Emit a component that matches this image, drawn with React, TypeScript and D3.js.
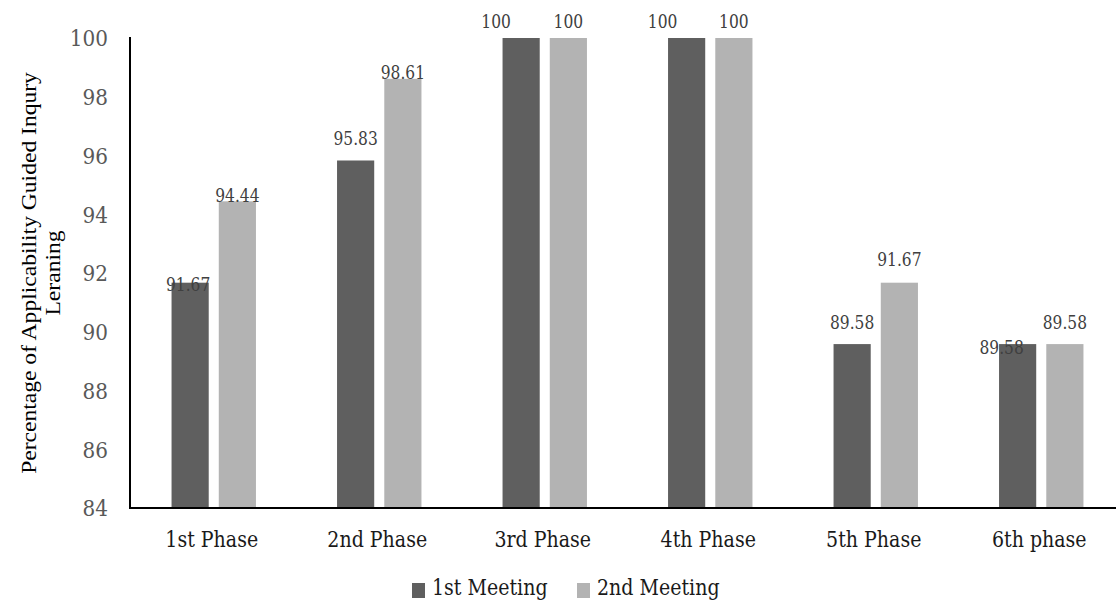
import React from "react";
import * as d3 from "d3";

const categories = ["1st Phase", "2nd Phase", "3rd Phase", "4th Phase", "5th Phase", "6th phase"];
const seriesNames = ["1st Meeting", "2nd Meeting"];
const meeting1 = [91.67, 95.83, 100, 100, 89.58, 89.58];
const meeting2 = [94.44, 98.61, 100, 100, 91.67, 89.58];
const yTicks = [84, 86, 88, 90, 92, 94, 96, 98, 100];
const labelText1 = ["91.67", "95.83", "100", "100", "89.58", "89.58"];
const labelText2 = ["94.44", "98.61", "100", "100", "91.67", "89.58"];

// label placement tweaks (styling, px)
const labelDy1 = [2, -22, -16, -16, -22, 3];
const labelDx1 = [-2, 0, -25, -24, 0, -16];
const labelDy2 = [-6, -6, -16, -16, -23, -22];
const labelDx2 = [0, 0, 0, 0, 0, 0];

const W = 1116;
const H = 601;
const colors = ["#5f5f5f", "#b3b3b3"];
const SY = 1.15;
const serif = "'DejaVu Serif', serif";

export default function App() {
  const x0 = d3.scaleBand<string>().domain(categories).range([131, 1124]).paddingInner(0.49).paddingOuter(0.245);
  const x1 = d3.scaleBand<string>().domain(seriesNames).range([0, x0.bandwidth()]).paddingInner(0.213);
  const y = d3.scaleLinear().domain([84, 100]).range([508, 38]);

  const series = [
    { name: seriesNames[0], values: meeting1, labels: labelText1, dy: labelDy1, dx: labelDx1 },
    { name: seriesNames[1], values: meeting2, labels: labelText2, dy: labelDy2, dx: labelDx2 },
  ];

  const tt = (x: number, yy: number) => `translate(${x},${yy}) scale(1,${SY})`;

  return (
    <svg width={W} height={H} style={{ position: "absolute", left: 0, top: 0, background: "#fff" }}>
      <rect x={0} y={0} width={W} height={H} fill="#fff" />
      {series.map((s, si) =>
        categories.map((c, i) => {
          const bx = (x0(c) as number) + (x1(s.name) as number);
          const by = y(s.values[i]);
          return (
            <rect key={`b${si}-${i}`} x={bx} y={by} width={x1.bandwidth()} height={y(84) - by} fill={colors[si]} />
          );
        })
      )}
      {series.map((s, si) =>
        categories.map((c, i) => {
          const cx = (x0(c) as number) + (x1(s.name) as number) + x1.bandwidth() / 2 + s.dx[i];
          const cy = y(s.values[i]) + s.dy[i];
          return (
            <text key={`l${si}-${i}`} transform={tt(cx, cy)} textAnchor="middle" dy="0.36em"
              fontFamily={serif} fontSize={15.5} fill="#404040">
              {s.labels[i]}
            </text>
          );
        })
      )}
      <line x1={130} x2={130} y1={37} y2={509} stroke="#000" strokeWidth={2} />
      <line x1={129} x2={W} y1={508} y2={508} stroke="#000" strokeWidth={2} />
      {yTicks.map((t) => (
        <text key={`t${t}`} transform={tt(108, y(t))} textAnchor="end" dy="0.36em"
          fontFamily={serif} fontSize={20} fill="#595959">
          {t}
        </text>
      ))}
      {categories.map((c) => (
        <text key={`c${c}`} transform={tt((x0(c) as number) + x0.bandwidth() / 2 - 2, 547)} textAnchor="middle"
          fontFamily={serif} fontSize={19} fill="#1a1a1a">
          {c}
        </text>
      ))}
      <g transform={`translate(0,273) scale(1,${SY}) rotate(-90)`}>
        <text x={0} y={36} textAnchor="middle" fontFamily="'Liberation Serif', serif" fontSize={20.5} fill="#000">
          Percentage of Applicability Guided Inqury
        </text>
        <text x={0} y={60} textAnchor="middle" fontFamily="'Liberation Serif', serif" fontSize={20.5} fill="#000">
          Leraning
        </text>
      </g>
      {seriesNames.map((n, i) => {
        const lx = [412, 577][i];
        return (
          <g key={`lg${i}`}>
            <rect x={lx} y={583} width={13} height={15} fill={colors[i]} />
            <text transform={tt(lx + 20, 595)} fontFamily={serif} fontSize={19} fill="#1a1a1a">
              {n}
            </text>
          </g>
        );
      })}
    </svg>
  );
}
